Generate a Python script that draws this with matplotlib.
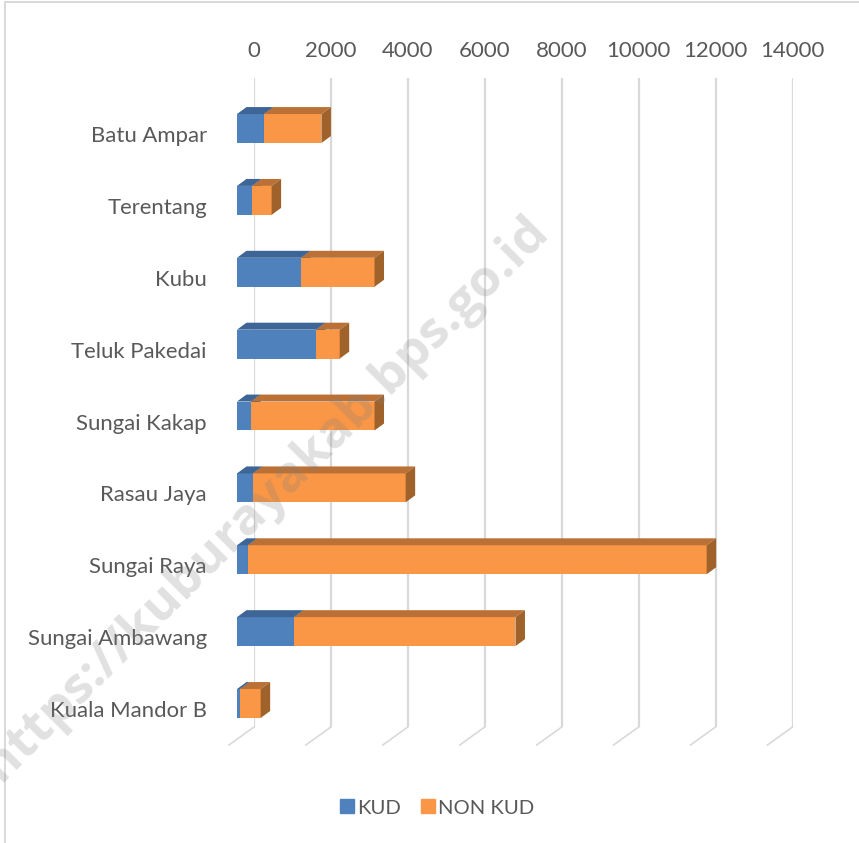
import matplotlib
matplotlib.use("Agg")
import matplotlib.pyplot as plt
from matplotlib.patches import Polygon, Patch
import numpy as np

districts = ["Batu Ampar", "Terentang", "Kubu", "Teluk Pakedai", "Sungai Kakap",
             "Rasau Jaya", "Sungai Raya", "Sungai Ambawang", "Kuala Mandor B"]
kud = [700, 390, 1665, 2055, 365, 415, 285, 1480, 80]
non_kud = [1495, 510, 1910, 615, 3210, 3970, 11925, 5760, 535]
xticks = [0, 2000, 4000, 6000, 8000, 10000, 12000, 14000]

plt.rcParams['font.family'] = ['Lato', 'DejaVu Sans']
W, H = 859, 843
fig = plt.figure(figsize=(W / 100, H / 100), dpi=100)

# axes = back wall of the fake 3d chart
ax = fig.add_axes([254 / W, 1 - 727 / H, (792.5 - 254) / W, (727 - 78) / H])
ax.set_xlim(0, 14000)
ax.set_ylim(8.327, -0.703)
for s in ax.spines.values():
    s.set_visible(False)

text_col = "#595959"
grid_col = "#d9d9d9"
ax.xaxis.tick_top()
ax.set_xticks(xticks)
ax.set_yticks(np.arange(9) + 0.077)
ax.set_yticklabels(districts)
ax.tick_params(axis='x', length=0, pad=12, labelsize=16, labelcolor=text_col)
ax.tick_params(axis='y', length=0, pad=34, labelsize=15.9, labelcolor=text_col)
ax.grid(axis='x', color=grid_col, lw=1.6, zorder=0)
ax.set_axisbelow(True)

# floor lines going to the front
for t in xticks:
    ax.plot([t, t - 650], [8.327, 8.327 + 0.25], color=grid_col, lw=1.2, clip_on=False, zorder=1)

x0 = -442
dx, dy = 247, 0.097
h = 0.403
y = np.arange(9)
kud = np.array(kud)
non_kud = np.array(non_kud)

faces = [("#4f81bd", "#3d6596", "#39608e"), ("#f99746", "#bb7136", "#a0622b")]
starts = [np.zeros(9), kud]
vals = [kud, non_kud]
for (front, top, side), st, v in zip(faces, starts, vals):
    ax.barh(y, v, left=x0 + st, height=h, color=front, clip_on=False, zorder=3)
    for i in y:
        l = x0 + st[i]
        r = l + v[i]
        ytop = i - h / 2
        ybot = i + h / 2
        ax.add_patch(Polygon([(l, ytop), (r, ytop), (r + dx, ytop - dy), (l + dx, ytop - dy)],
                             color=top, lw=0, clip_on=False, zorder=3))
        ax.add_patch(Polygon([(r, ytop), (r + dx, ytop - dy), (r + dx, ybot - dy), (r, ybot)],
                             color=side, lw=0, clip_on=False, zorder=3))

# legend
fig.legend(handles=[Patch(color=faces[0][0], label="KUD"), Patch(color=faces[1][0], label="NON KUD")],
           loc='center', bbox_to_anchor=(437 / W, 1 - 808 / H), ncol=2, frameon=False,
           fontsize=14.6, labelcolor=text_col, handlelength=0.68, handleheight=0.68,
           handletextpad=0.15, columnspacing=1.0)

# watermark
fig.text(266 / W, 1 - 499 / H, "https://kuburayakab.bps.go.id", rotation=45, ha='center', va='center',
         fontsize=37, fontweight='bold', color='#808080', alpha=0.24, zorder=10,
         family=['Open Sans', 'DejaVu Sans'])

# chart frame
fig.add_artist(plt.Line2D([5 / W, 5 / W], [0, 1 - 2 / H], color=grid_col, lw=1.4))
fig.add_artist(plt.Line2D([5 / W, 1], [1 - 2 / H, 1 - 2 / H], color=grid_col, lw=1.4))

fig.savefig("out.png", dpi=100)
